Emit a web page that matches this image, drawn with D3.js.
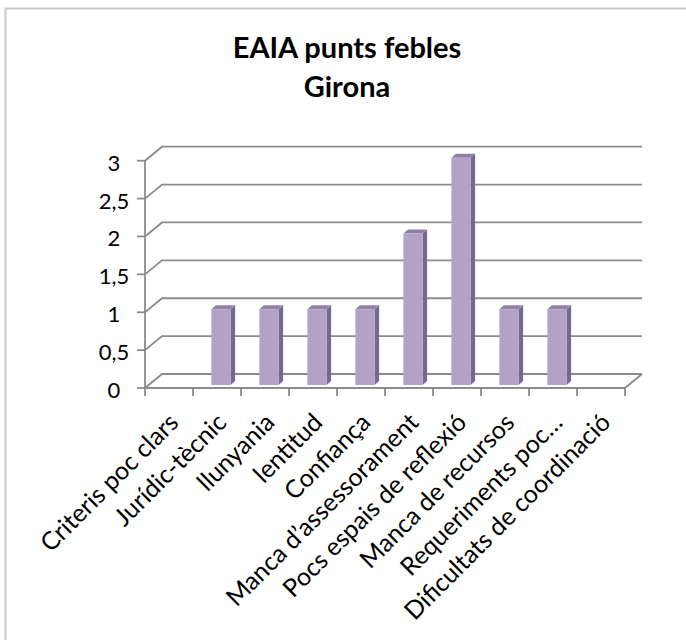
<!DOCTYPE html>
<html lang="ca">
<head>
<meta charset="UTF-8">
<title>EAIA punts febles Girona</title>
<script src="https://d3js.org/d3.v7.min.js"></script>
<style>
    body { margin: 0; background: #fff; }
    .grid { stroke: #8c8c8c; stroke-width: 1.8; fill: none; }
    .lbl { font-family: Lato, "Open Sans", sans-serif; font-size: 22px; fill: #000; }
    .xlbl { font-size: 25px; }
    .title { font-family: Lato, "Open Sans", sans-serif; font-size: 29px; font-weight: bold; fill: #000; }
</style>
</head>
<body>
<div id="chart"></div>
<script>
    const categories = ["Criteris poc clars", "Jurídic-tècnic", "llunyania", "lentitud", "Confiança",
        "Manca d\u2019assessorament", "Pocs espais de reflexió", "Manca de recursos",
        "Requeriments poc…", "Dificultats de coordinació"];
    const values = [0, 1, 1, 1, 1, 2, 3, 1, 1, 0];
    const yTicks = [0, 0.5, 1, 1.5, 2, 2.5, 3];
    const titleLines = ["EAIA punts febles", "Girona"];

    const width = 686, height = 640;
    const dx = 17, dy = -14;        // depth of the 3D box
    const barDx = 4, barDy = -3;    // where the bar front sits inside the box
    const barDepthX = 4.5, barDepthY = -4;

    const svg = d3.select("#chart").append("svg")
        .attr("width", width)
        .attr("height", height);

    // chart frame
    svg.append("rect")
        .attr("x", 5.5).attr("y", 8.5)
        .attr("width", 700).attr("height", 700)
        .attr("fill", "none")
        .attr("stroke", "#c9c9c9")
        .attr("stroke-width", 2);

    const x = d3.scaleBand()
        .domain(categories)
        .range([145, 625])
        .paddingInner(0)
        .paddingOuter(0);

    const y = d3.scaleLinear()
        .domain([0, 3])
        .range([388, 160.7]);

    const fmt = d => d3.format(".1~f")(d).replace(".", ",");

    // gridlines: left wall + back wall
    const grid = svg.append("g");
    yTicks.forEach(t => {
        const yy = y(t);
        grid.append("path")
            .attr("class", "grid")
            .attr("d", `M${x.range()[0]},${yy} L${x.range()[0] + dx},${yy + dy} L${x.range()[1] + dx},${yy + dy}`);
    });
    // floor front edge and right edge
    grid.append("path")
        .attr("class", "grid")
        .attr("d", `M${x.range()[0]},${y(0)} L${x.range()[1]},${y(0)} L${x.range()[1] + dx},${y(0) + dy}`);
    // vertical axis
    grid.append("line")
        .attr("class", "grid")
        .attr("x1", x.range()[0]).attr("x2", x.range()[0])
        .attr("y1", y(0)).attr("y2", y(3));

    // y ticks and labels
    const yAxis = svg.append("g");
    yTicks.forEach(t => {
        yAxis.append("line")
            .attr("class", "grid")
            .attr("x1", 137).attr("x2", 145)
            .attr("y1", y(t)).attr("y2", y(t));
        yAxis.append("text")
            .attr("class", "lbl")
            .attr("x", 114)
            .attr("y", y(t) + 2)
            .attr("dy", "0.36em")
            .attr("text-anchor", "middle")
            .text(fmt(t));
    });

    // x ticks at category boundaries
    const bounds = categories.map(c => x(c)).concat([x.range()[1]]);
    svg.append("g").selectAll("line")
        .data(bounds)
        .enter().append("line")
        .attr("class", "grid")
        .attr("x1", d => d).attr("x2", d => d)
        .attr("y1", y(0)).attr("y2", y(0) + 8);

    // bars
    const barW = x.bandwidth() * 0.4;
    const bars = svg.append("g");
    categories.forEach((c, i) => {
        const v = values[i];
        if (!v) return;
        const x0 = x(c) + (x.bandwidth() - barW) / 2 + barDx;
        const x1 = x0 + barW;
        const yb = y(0) + barDy;
        const yt = y(v) + barDy;
        // side face
        bars.append("path")
            .attr("fill", "#77698b")
            .attr("d", `M${x1},${yb} L${x1 + barDepthX},${yb + barDepthY} L${x1 + barDepthX},${yt + barDepthY} L${x1},${yt} Z`);
        // top face
        bars.append("path")
            .attr("fill", "#8f80a6")
            .attr("d", `M${x0},${yt} L${x0 + barDepthX},${yt + barDepthY} L${x1 + barDepthX},${yt + barDepthY} L${x1},${yt} Z`);
        // front face
        bars.append("rect")
            .attr("fill", "#b3a2c7")
            .attr("x", x0).attr("y", yt)
            .attr("width", barW).attr("height", yb - yt);
    });

    // x labels, rotated
    svg.append("g").selectAll("text")
        .data(categories)
        .enter().append("text")
        .attr("class", "lbl xlbl")
        .attr("text-anchor", "end")
        .attr("transform", d => `translate(${x(d) + x.bandwidth() / 2 + 11},${424}) rotate(-45)`)
        .text(d => d);

    // title
    svg.append("g").selectAll("text")
        .data(titleLines)
        .enter().append("text")
        .attr("class", "title")
        .attr("x", 347)
        .attr("y", (d, i) => 58 + i * 39)
        .attr("text-anchor", "middle")
        .text(d => d);
</script>
</body>
</html>
